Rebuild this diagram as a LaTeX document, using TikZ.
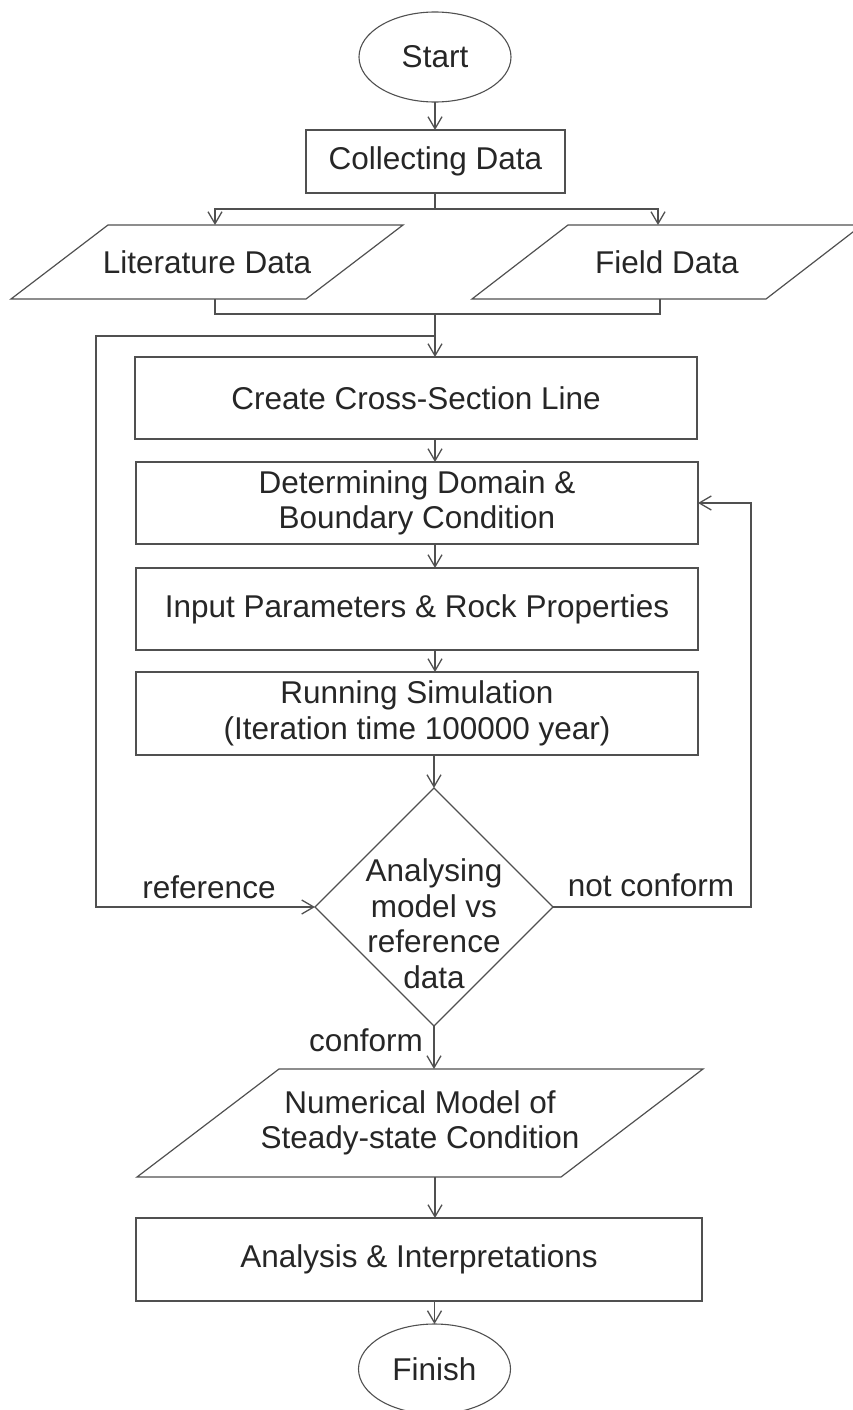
\documentclass[tikz,border=0pt]{standalone}
\usepackage{fontspec}
\setmainfont{Liberation Sans}
\usetikzlibrary{shapes.geometric,arrows.meta}
\definecolor{lin}{HTML}{505050}
\definecolor{txt}{HTML}{262626}
\begin{document}
\begin{tikzpicture}[x=1pt,y=-1pt,
  every node/.style={font=\fontsize{31.5}{35.5}\selectfont, text=txt, inner sep=0pt, outer sep=0pt},
  boxn/.style={draw=lin, line width=1.3pt, rectangle, minimum width=562, minimum height=82, align=center},
  ovaln/.style={draw=lin, line width=1.1pt, ellipse, minimum width=152, minimum height=90},
  paran/.style={rectangle, align=center},
  dian/.style={draw=lin, line width=1.1pt, diamond, minimum width=238, minimum height=238},
  conn/.style={draw=lin, line width=1.2pt},
  outl/.style={draw=lin, line width=1.2pt, line join=miter},
  arr/.style={conn, -{Straight Barb[length=12pt,width=14pt,line width=1.3pt]}},
  lab/.style={font=\fontsize{31.5}{35.5}\selectfont}
]
\useasboundingbox (0,0) rectangle (853,1410);

\node[ovaln] (start) at (435,57) {Start};
\node[boxn, minimum width=259, minimum height=63] (collect) at (435.5,161.5) {Collecting Data};
\node[paran, minimum width=295, minimum height=74] (lit) at (207,262) {Literature Data};
\node[paran, minimum width=294, minimum height=74] (field) at (667,262) {Field Data};
\node[boxn] (create) at (416,398) {Create Cross-Section Line};
\node[boxn] (determ) at (417,503) {Determining Domain \&\\Boundary Condition};
\node[boxn] (input) at (417,609) {Input Parameters \& Rock Properties};
\node[boxn, minimum height=83] (run) at (417,713.5) {Running Simulation\\(Iteration time 100000 year)};
\node[dian] (dia) at (434,907) {};
\node[align=center] (diatext) at (434,923.5) {Analysing\\model vs\\reference\\data};
\node[paran, minimum width=424, minimum height=108] (num) at (420,1123) {Numerical Model of\\Steady-state Condition};
\node[boxn, minimum width=566, minimum height=83] (analysis) at (419,1259.5) {Analysis \& Interpretations};
\node[ovaln] (finish) at (434.5,1369) {Finish};

% parallelogram outlines
\draw[outl] ([xshift=48.5pt]lit.north west) -- ([xshift=48.5pt]lit.north east) -- ([xshift=-48.5pt]lit.south east) -- ([xshift=-48.5pt]lit.south west) -- cycle;
\draw[outl] ([xshift=48pt]field.north west) -- ([xshift=48pt]field.north east) -- ([xshift=-48pt]field.south east) -- ([xshift=-48pt]field.south west) -- cycle;
\draw[outl] ([xshift=71pt]num.north west) -- ([xshift=71pt]num.north east) -- ([xshift=-71pt]num.south east) -- ([xshift=-71pt]num.south west) -- cycle;

\node[lab] (lref) at (209,887) {reference};
\node[lab] (lnot) at (651,885) {not conform};
\node[lab] (lconf) at (366,1040) {conform};

\coordinate (fork) at (435,209);
\coordinate (merge) at (435,314);
\coordinate (lj) at (435,336);
\coordinate (lc) at (96,336);

\draw[arr] (start.south) -- (start.south |- collect.north);
\draw[conn] (collect.south -| fork) -- (fork);
\draw[arr] (fork) -| ([xshift=8pt]lit.north);
\draw[arr] (fork) -| ([xshift=-9pt]field.north);
\draw[conn] ([xshift=8pt]lit.south) |- (merge);
\draw[conn] ([xshift=-7pt]field.south) |- (merge);
\draw[arr] (merge) -- (merge |- create.north);
\draw[arr] (lj) -- (lc) |- (dia.west);
\draw[arr] (create.south -| merge) -- (determ.north -| merge);
\draw[arr] (determ.south -| merge) -- (input.north -| merge);
\draw[arr] (input.south -| merge) -- (run.north -| merge);
\draw[arr] (run.south -| dia) -- (dia.north);
\draw[arr] (dia.east) -- ++(198,0) |- (determ.east);
\draw[arr] (dia.south) -- (dia.south |- num.north);
\draw[arr] (num.south -| merge) -- (analysis.north -| merge);
\draw[arr] (analysis.south -| finish) -- (finish.north);
\end{tikzpicture}
\end{document}
